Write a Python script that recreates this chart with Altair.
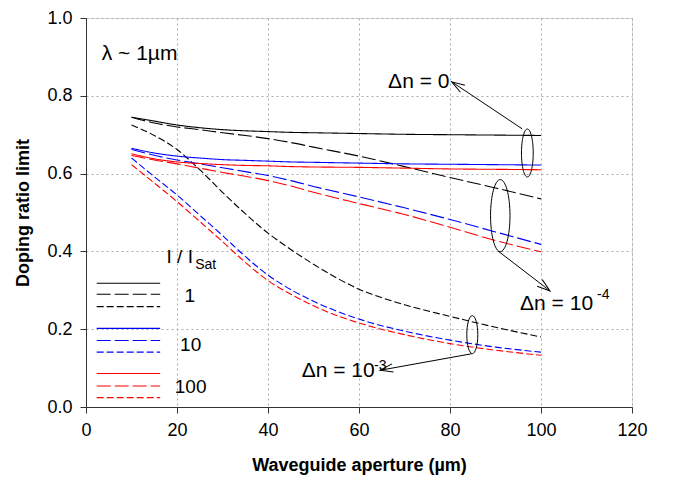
import altair as alt
import pandas as pd

FONT = "Liberation Sans"

# ---------------- data ----------------
aperture = [10, 15, 20, 25, 30, 35, 40, 45, 50, 60, 70, 80, 90, 100]

# I/Isat = 1 (black)
i1_dn0 = [0.745, 0.735, 0.725, 0.718, 0.713, 0.710, 0.708, 0.706, 0.705, 0.703, 0.701, 0.700, 0.699, 0.698]
i1_dn4 = [0.745, 0.730, 0.720, 0.713, 0.705, 0.698, 0.690, 0.680, 0.668, 0.645, 0.618, 0.590, 0.563, 0.535]
i1_dn3 = [0.725, 0.698, 0.662, 0.610, 0.552, 0.497, 0.447, 0.405, 0.367, 0.303, 0.263, 0.233, 0.205, 0.180]
# I/Isat = 10 (blue)
i10_dn0 = [0.665, 0.653, 0.645, 0.640, 0.636, 0.634, 0.632, 0.630, 0.629, 0.627, 0.625, 0.624, 0.623, 0.622]
i10_dn4 = [0.662, 0.647, 0.635, 0.625, 0.615, 0.605, 0.595, 0.582, 0.567, 0.540, 0.512, 0.482, 0.450, 0.418]
i10_dn3 = [0.640, 0.592, 0.545, 0.493, 0.441, 0.387, 0.339, 0.302, 0.272, 0.226, 0.195, 0.172, 0.154, 0.141]
# I/Isat = 100 (red)
i100_dn0 = [0.651, 0.638, 0.630, 0.626, 0.623, 0.621, 0.620, 0.618, 0.617, 0.616, 0.614, 0.612, 0.611, 0.610]
i100_dn4 = [0.647, 0.635, 0.625, 0.614, 0.603, 0.593, 0.582, 0.568, 0.552, 0.523, 0.495, 0.462, 0.428, 0.399]
i100_dn3 = [0.623, 0.576, 0.528, 0.477, 0.425, 0.372, 0.325, 0.290, 0.260, 0.216, 0.186, 0.163, 0.146, 0.133]

series_names = ["1|0", "1|1e-4", "1|1e-3", "10|0", "10|1e-4", "10|1e-3", "100|0", "100|1e-4", "100|1e-3"]
series_values = [i1_dn0, i1_dn4, i1_dn3, i10_dn0, i10_dn4, i10_dn3, i100_dn0, i100_dn4, i100_dn3]
series_colors = ["#000000"] * 3 + ["#0000ff"] * 3 + ["#ff0000"] * 3
SOLID, LONG, SHORT = [1, 0], [14, 4], [7, 3]
series_dashes = [SOLID, LONG, SHORT] * 3

rows = []
for name, vals in zip(series_names, series_values):
    for xv, yv in zip(aperture, vals):
        rows.append({"x": xv, "y": yv, "series": name})
df = pd.DataFrame(rows)

color_enc = alt.Color("series:N", scale=alt.Scale(domain=series_names, range=series_colors), legend=None)
dash_enc = alt.StrokeDash("series:N", scale=alt.Scale(domain=series_names, range=series_dashes), legend=None)

xscale = alt.Scale(domain=[0, 120], nice=False, zero=False)
yscale = alt.Scale(domain=[0, 1], nice=False, zero=False)

xaxis = alt.Axis(values=[0, 20, 40, 60, 80, 100, 120], title="Waveguide aperture (µm)",
                 labelFontSize=18, titleFontSize=18, titleFontWeight="bold",
                 labelFont=FONT, titleFont=FONT, labelColor="#000", titleColor="#000",
                 tickSize=6, labelPadding=8, titlePadding=17,
                 grid=True, gridDash=[2, 3], gridColor="#aaaaaa",
                 domainColor="#333", tickColor="#333", labelFlush=False)
yaxis = alt.Axis(values=[0, 0.2, 0.4, 0.6, 0.8, 1.0], format=".1f", title="Doping ratio limit",
                 labelFontSize=18, titleFontSize=18, titleFontWeight="bold",
                 labelFont=FONT, titleFont=FONT, labelColor="#000", titleColor="#000",
                 tickSize=6, labelPadding=8, titlePadding=14,
                 grid=True, gridDash=[2, 3], gridColor="#aaaaaa",
                 domainColor="#333", tickColor="#333", labelFlush=False)

curves = alt.Chart(df).mark_line(strokeWidth=1.1, clip=True, interpolate="monotone").encode(
    x=alt.X("x:Q", scale=xscale, axis=xaxis),
    y=alt.Y("y:Q", scale=yscale, axis=yaxis),
    color=color_enc,
    strokeDash=dash_enc,
    detail="series:N",
)

# ---------------- legend drawn inside the plot ----------------
leg_y = [0.318, 0.290, 0.258, 0.202, 0.171, 0.141, 0.086, 0.054, 0.024]
leg_df = pd.DataFrame({"series": series_names, "y": leg_y, "x": [2.35] * 9, "x2": [16.3] * 9})
legend_lines = alt.Chart(leg_df).mark_rule(strokeWidth=1.1).encode(
    x="x:Q", x2="x2:Q", y="y:Q", color=color_enc, strokeDash=dash_enc
)

leg_num_df = pd.DataFrame({"x": [22.8, 23.0, 23.0], "y": [0.271, 0.1436, 0.035], "t": ["1", "10", "100"]})
legend_nums = alt.Chart(leg_num_df).mark_text(align="center", baseline="alphabetic", fontSize=19, font=FONT,
                                               color="#000").encode(x="x:Q", y="y:Q", text="t:N")

# ---------------- text annotations ----------------
ann_df = pd.DataFrame({
    "x": [3.45, 66.4, 95.4, 47.4],
    "y": [0.893, 0.819, 0.249, 0.077],
    "t": ["λ ~ 1µm", "Δn = 0", "Δn = 10", "Δn = 10"],
})
ann_text = alt.Chart(ann_df).mark_text(align="left", baseline="alphabetic", fontSize=21, font=FONT,
                                       color="#000").encode(x="x:Q", y="y:Q", text="t:N")

isat_df = pd.DataFrame({"x": [17.7], "y": [0.371], "t": ["I / I"]})
isat_text = alt.Chart(isat_df).mark_text(align="left", baseline="alphabetic", fontSize=19, font=FONT,
                                         color="#000").encode(x="x:Q", y="y:Q", text="t:N")

sub_df = pd.DataFrame({
    "x": [112.3, 63.3, 24.0],
    "y": [0.277, 0.094, 0.355],
    "t": ["-4", "-3", "Sat"],
})
sub_text = alt.Chart(sub_df).mark_text(align="left", baseline="alphabetic", fontSize=14, font=FONT,
                                       color="#000").encode(x="x:Q", y="y:Q", text="t:N")

# ellipses around groups of curve ends
def ellipse_path(a):
    k = 0.5523
    return (f"M0,-1C{a*k:.3f},-1 {a:.3f},-{k} {a:.3f},0C{a:.3f},{k} {a*k:.3f},1 0,1"
            f"C-{a*k:.3f},1 -{a:.3f},{k} -{a:.3f},0C-{a:.3f},-{k} -{a*k:.3f},-1 0,-1Z")

ell_df = pd.DataFrame({
    "x": [97.0, 91.05, 84.9],
    "y": [0.653, 0.492, 0.186],
    "shape": [ellipse_path(0.245), ellipse_path(0.27), ellipse_path(0.29)],
    "size": [48 ** 2, 72 ** 2, 38 ** 2],
})
ellipses = alt.Chart(ell_df).mark_point(filled=False, stroke="#000", strokeWidth=1, opacity=1).encode(
    x="x:Q", y="y:Q",
    shape=alt.Shape("shape:N", scale=None),
    size=alt.Size("size:Q", scale=None),
)

# arrows
arr_df = pd.DataFrame({
    "x": [95.87, 90.62, 84.77],
    "y": [0.715, 0.4005, 0.1369],
    "x2": [80.37, 101.98, 64.62],
    "y2": [0.836, 0.2985, 0.0944],
    "angle": [302.3, 127.7, 259.7],
})
arrow_lines = alt.Chart(arr_df).mark_rule(stroke="#000", strokeWidth=1).encode(
    x="x:Q", y="y:Q", x2="x2:Q", y2="y2:Q"
)
arrow_heads = alt.Chart(arr_df).mark_point(
    shape="M-0.32,1L0,0L0.32,1", filled=False, stroke="#000", strokeWidth=1, size=26 ** 2, opacity=1
).encode(x="x2:Q", y="y2:Q", angle=alt.Angle("angle:Q", scale=None))

chart = alt.layer(
    curves, legend_lines, legend_nums, ann_text, isat_text, sub_text, ellipses, arrow_lines, arrow_heads
).properties(
    width=546, height=389,
    autosize=alt.AutoSizeParams(type="none"),
    padding={"left": 78, "top": 10, "right": 30, "bottom": 72},
).configure_view(stroke="#222", strokeWidth=1).configure(background="white")

chart.save("out.html", embed_options={"renderer": "svg", "actions": False})
